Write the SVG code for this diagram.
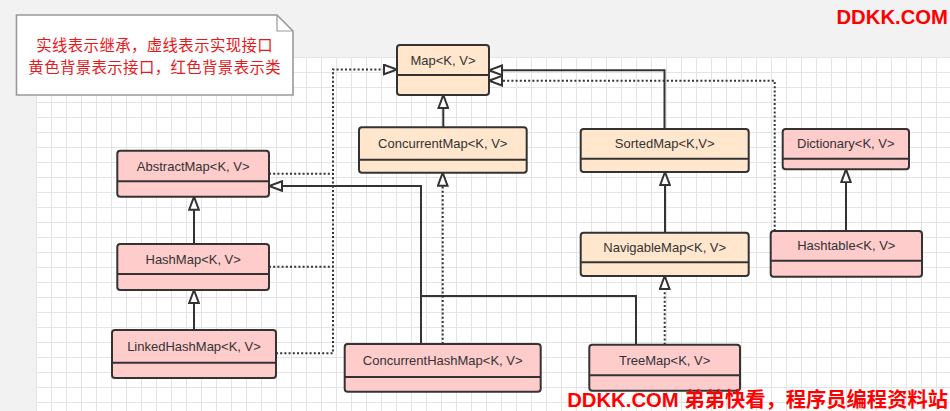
<svg xmlns="http://www.w3.org/2000/svg" width="950" height="411" viewBox="0 0 950 411">
  <defs>
    <pattern id="grid" patternUnits="userSpaceOnUse" x="36" y="57" width="15" height="15">
      <path d="M0.5 0 V15 M0 0.5 H15" fill="none" stroke="#e4e4e4" stroke-width="1"/>
    </pattern>
    <marker id="tri" markerUnits="userSpaceOnUse" viewBox="-1 -6 16 12" refX="13" refY="0" markerWidth="16" markerHeight="12" orient="auto">
      <path d="M0,-4.8 L13,0 L0,4.8 Z" fill="#ffffff" stroke="#333333" stroke-width="2" stroke-dasharray="none" stroke-linejoin="miter"/>
    </marker>
  </defs>
  <style>
    .box { stroke: #333333; stroke-width: 2; }
    .iface { fill: #ffe6cc; }
    .cls { fill: #ffcccc; }
    .sep { stroke: #333333; stroke-width: 2; fill: none; }
    .lbl { font-family: "Liberation Sans", Arial, sans-serif; font-size: 13px; fill: #333333; text-anchor: middle; }
    .edge { fill: none; stroke: #333333; stroke-width: 2; }
    .dot { stroke-dasharray: 2 2.2; }
    .note-t { font-family: "Noto Sans CJK SC", sans-serif; font-size: 15.4px; letter-spacing: 0.4px; fill: #e8191c; text-anchor: middle; }
    .wm { font-family: "Liberation Sans", "Noto Sans CJK SC", sans-serif; font-size: 20.3px; font-weight: bold; fill: #ff0000; text-anchor: end; }
  </style>

  <rect x="0" y="0" width="950" height="411" fill="#f2f2f2"/>
  <rect x="36" y="57" width="914" height="354" fill="#ffffff"/>
  <rect x="36" y="57" width="914" height="354" fill="url(#grid)"/>

  <g id="note">
    <path d="M16.5 15 H277 L293 31 V95 H16.5 Z" fill="#ffffff" stroke="#999999" stroke-width="1.6"/>
    <path d="M277 15 V31 H293" fill="none" stroke="#999999" stroke-width="1.2"/>
    <text class="note-t" x="154.7" y="50.6">实线表示继承，虚线表示实现接口</text>
    <text class="note-t" x="154.7" y="73.2">黄色背景表示接口，红色背景表示类</text>
  </g>

  <g id="connectors">
    <!-- class inheritance -->
    <path class="edge" d="M194 330 V290" marker-end="url(#tri)"/>
    <path class="edge" d="M194 244 V196.7" marker-end="url(#tri)"/>
    <path class="edge" d="M421 344 V186 H269" marker-end="url(#tri)"/>
    <path class="edge" d="M636 344.7 V296 H421"/>
    <path class="edge" d="M443.3 127.3 V95" marker-end="url(#tri)"/>
    <path class="edge" d="M664.5 129 V70.3 H489" marker-end="url(#tri)"/>
    <path class="edge" d="M665 232.7 V172" marker-end="url(#tri)"/>
    <path class="edge" d="M846 231 V169.3" marker-end="url(#tri)"/>
    <!-- interface realization -->
    <path class="edge dot" d="M276 353.3 H333 V69.5 H397" marker-end="url(#tri)"/>
    <path class="edge dot" d="M269 173.7 H333"/>
    <path class="edge dot" d="M269 266.7 H333"/>
    <path class="edge dot" d="M442.7 344 V172.7" marker-end="url(#tri)"/>
    <path class="edge dot" d="M774.7 231 V80.7 H489" marker-end="url(#tri)"/>
    <path class="edge dot" d="M664.7 344.7 V276" marker-end="url(#tri)"/>
  </g>

  <g id="map">
    <rect class="box iface" x="397" y="45" width="92" height="50" rx="3"/>
    <line class="sep" x1="397" y1="75" x2="489" y2="75"/>
    <text class="lbl" x="443" y="64.5">Map&lt;K, V&gt;</text>
  </g>
  <g id="concurrentmap">
    <rect class="box iface" x="359" y="127.3" width="167.7" height="45.4" rx="3"/>
    <line class="sep" x1="359" y1="159.7" x2="526.7" y2="159.7"/>
    <text class="lbl" x="442.8" y="148">ConcurrentMap&lt;K, V&gt;</text>
  </g>
  <g id="sortedmap">
    <rect class="box iface" x="580.7" y="129" width="168" height="43" rx="3"/>
    <line class="sep" x1="580.7" y1="158.7" x2="748.7" y2="158.7"/>
    <text class="lbl" x="664.7" y="148.3">SortedMap&lt;K,V&gt;</text>
  </g>
  <g id="dictionary">
    <rect class="box cls" x="782.7" y="129" width="126.3" height="40.3" rx="3"/>
    <line class="sep" x1="782.7" y1="158.7" x2="909" y2="158.7"/>
    <text class="lbl" x="845.8" y="148.3">Dictionary&lt;K, V&gt;</text>
  </g>
  <g id="navigablemap">
    <rect class="box iface" x="580.7" y="232.7" width="168" height="43.3" rx="3"/>
    <line class="sep" x1="580.7" y1="262.3" x2="748.7" y2="262.3"/>
    <text class="lbl" x="664.7" y="252">NavigableMap&lt;K, V&gt;</text>
  </g>
  <g id="hashtable">
    <rect class="box cls" x="770.7" y="231" width="151.3" height="45.7" rx="3"/>
    <line class="sep" x1="770.7" y1="260.7" x2="922" y2="260.7"/>
    <text class="lbl" x="846.3" y="250.3">Hashtable&lt;K, V&gt;</text>
  </g>
  <g id="abstractmap">
    <rect class="box cls" x="117.3" y="150.7" width="151.7" height="46" rx="3"/>
    <line class="sep" x1="117.3" y1="181.3" x2="269" y2="181.3"/>
    <text class="lbl" x="193.2" y="170.5">AbstractMap&lt;K, V&gt;</text>
  </g>
  <g id="hashmap">
    <rect class="box cls" x="117.3" y="244" width="151.7" height="46" rx="3"/>
    <line class="sep" x1="117.3" y1="274" x2="269" y2="274"/>
    <text class="lbl" x="193.2" y="263.5">HashMap&lt;K, V&gt;</text>
  </g>
  <g id="linkedhashmap">
    <rect class="box cls" x="112" y="330" width="164" height="48" rx="3"/>
    <line class="sep" x1="112" y1="362.7" x2="276" y2="362.7"/>
    <text class="lbl" x="194" y="351">LinkedHashMap&lt;K, V&gt;</text>
  </g>
  <g id="concurrenthashmap">
    <rect class="box cls" x="344.7" y="344" width="196" height="47.7" rx="3"/>
    <line class="sep" x1="344.7" y1="377" x2="540.7" y2="377"/>
    <text class="lbl" x="442.7" y="365">ConcurrentHashMap&lt;K, V&gt;</text>
  </g>
  <g id="treemap">
    <rect class="box cls" x="589.3" y="344.7" width="150.7" height="46" rx="3"/>
    <line class="sep" x1="589.3" y1="375.3" x2="740" y2="375.3"/>
    <text class="lbl" x="664.7" y="364.5">TreeMap&lt;K, V&gt;</text>
  </g>

  <g id="watermarks">
    <text class="wm" x="948" y="23.5">DDKK.COM</text>
    <text class="wm" x="948" y="407">DDKK.COM 弟弟快看，程序员编程资料站</text>
  </g>
</svg>
